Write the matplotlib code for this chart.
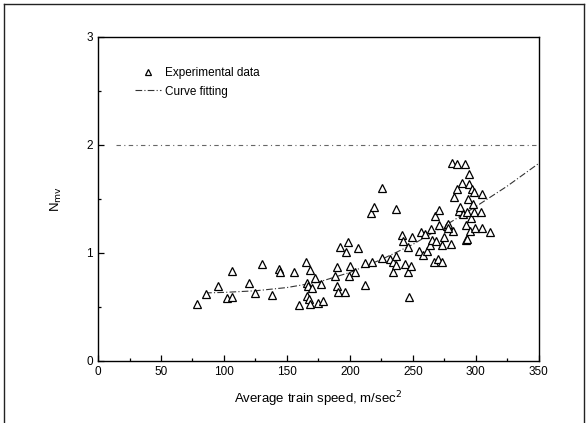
import matplotlib
matplotlib.use("Agg")
import matplotlib.pyplot as plt
from matplotlib.ticker import MultipleLocator
from matplotlib.lines import Line2D

plt.rcParams['font.family'] = ['Liberation Sans', 'DejaVu Sans']

# Measured points: average train speed vs. N_mv
speed = [78.3, 85.8, 95.0, 102.2, 106.3, 106.0, 119.5, 124.8, 130.2, 138.5,
         143.6, 144.8, 155.5, 159.7, 165.3, 165.9, 166.8, 165.9, 167.7, 168.0,
         168.3, 169.8, 171.9, 174.9, 177.2, 178.4, 188.3, 190.0, 190.0, 190.6,
         192.4, 196.3, 197.2, 198.7, 200.2, 199.3, 204.1, 206.4, 211.8, 211.8,
         217.2, 216.6, 219.2, 225.5, 225.8, 232.1, 234.4, 234.4, 236.2, 236.8,
         236.2, 241.0, 241.9, 244.0, 245.8, 246.4, 247.2, 248.1, 249.0, 254.7,
         256.8, 258.3, 261.5, 263.3, 264.2, 265.1, 266.6, 267.2, 268.7, 270.2,
         270.8, 270.8, 273.2, 273.2, 274.9, 277.0, 278.2, 280.6, 281.2, 282.1,
         283.0, 285.1, 285.1, 286.3, 287.5, 289.3, 290.1, 291.3, 291.9, 292.5,
         292.8, 293.1, 294.0, 294.3, 294.9, 295.5, 296.4, 297.0, 297.9, 298.8,
         299.4, 298.5, 304.4, 305.0, 305.0, 311.0, 277.6, 259.9]
nmv = [0.53, 0.62, 0.69, 0.58, 0.59, 0.83, 0.72, 0.63, 0.90, 0.61,
       0.85, 0.82, 0.82, 0.52, 0.92, 0.72, 0.69, 0.60, 0.57, 0.84,
       0.53, 0.68, 0.77, 0.54, 0.71, 0.56, 0.79, 0.87, 0.69, 0.64,
       1.06, 0.64, 1.01, 1.10, 0.88, 0.79, 0.82, 1.05, 0.70, 0.91,
       0.92, 1.37, 1.43, 0.95, 1.60, 0.94, 0.82, 0.92, 0.97, 0.89,
       1.41, 1.17, 1.11, 0.90, 1.06, 0.82, 0.59, 0.88, 1.15, 1.02,
       1.19, 0.98, 1.02, 1.07, 1.22, 1.12, 0.92, 1.34, 1.11, 0.94,
       1.40, 1.26, 0.92, 1.07, 1.15, 1.25, 1.27, 1.08, 1.83, 1.20,
       1.52, 1.82, 1.59, 1.39, 1.43, 1.65, 1.36, 1.82, 1.12, 1.26,
       1.13, 1.38, 1.50, 1.64, 1.73, 1.20, 1.32, 1.59, 1.45, 1.56,
       1.23, 1.38, 1.38, 1.55, 1.23, 1.19, 1.23, 1.18]

# Fitted curve
fit_speed = [85, 100, 125, 150, 175, 200, 225, 250, 275, 300, 325, 350]
fit_nmv = [0.63, 0.635, 0.65, 0.68, 0.73, 0.82, 0.94, 1.08, 1.25, 1.43, 1.62, 1.83]

# Upper reference level
limit_speed = [14, 350]
limit_nmv = [2.0, 2.0]

fig = plt.figure(figsize=(5.87, 4.23), dpi=100)
ax = fig.add_axes([0.167, 0.1466, 0.751, 0.766])

ax.plot(limit_speed, limit_nmv, color='#666666', lw=0.8, ls=(0, (4, 3, 1, 3)))
ax.plot(fit_speed, fit_nmv, color='#333333', lw=0.8, ls=(0, (6, 2, 1, 2)))
ax.plot(speed, nmv, ls='none', marker='^', markersize=5.8, mfc='white',
        mec='black', mew=0.9)

ax.set_xlim(0, 350)
ax.set_ylim(0, 3)
ax.xaxis.set_major_locator(MultipleLocator(50))
ax.xaxis.set_minor_locator(MultipleLocator(25))
ax.yaxis.set_major_locator(MultipleLocator(1))
ax.yaxis.set_minor_locator(MultipleLocator(0.5))
ax.tick_params(which='both', direction='in', top=False, right=False,
               labelsize=8.5, width=0.9)
ax.tick_params(which='major', length=4)
ax.tick_params(which='minor', length=2.5)
for s in ax.spines.values():
    s.set_linewidth(1.0)

ax.set_xlabel('Average train speed, m/sec$^2$', fontsize=9.5, labelpad=8)
ax.set_ylabel('N$_{\\mathrm{mv}}$', fontsize=9.5, labelpad=16)

handles = [Line2D([], [], ls='none', marker='^', markersize=4.5, mfc='white',
                  mec='black', mew=0.9),
           Line2D([], [], color='#333333', lw=0.8, ls=(0, (6, 2, 1, 2)))]
ax.legend(handles, ['Experimental data', 'Curve fitting'], loc='upper left',
          bbox_to_anchor=(0.06, 0.94), frameon=False, fontsize=8.5,
          handlelength=2.2, handletextpad=0.3, labelspacing=0.55)

# Outer frame around the figure
frame = dict(color='#222222', lw=1.0, transform=fig.transFigure, clip_on=False)
fig.add_artist(Line2D([0.006, 0.006], [0.0, 0.99], **frame))
fig.add_artist(Line2D([0.006, 0.995], [0.99, 0.99], **frame))
fig.add_artist(Line2D([0.995, 0.995], [0.0, 0.99], **frame))

fig.savefig('out.png', dpi=100, facecolor='white')
